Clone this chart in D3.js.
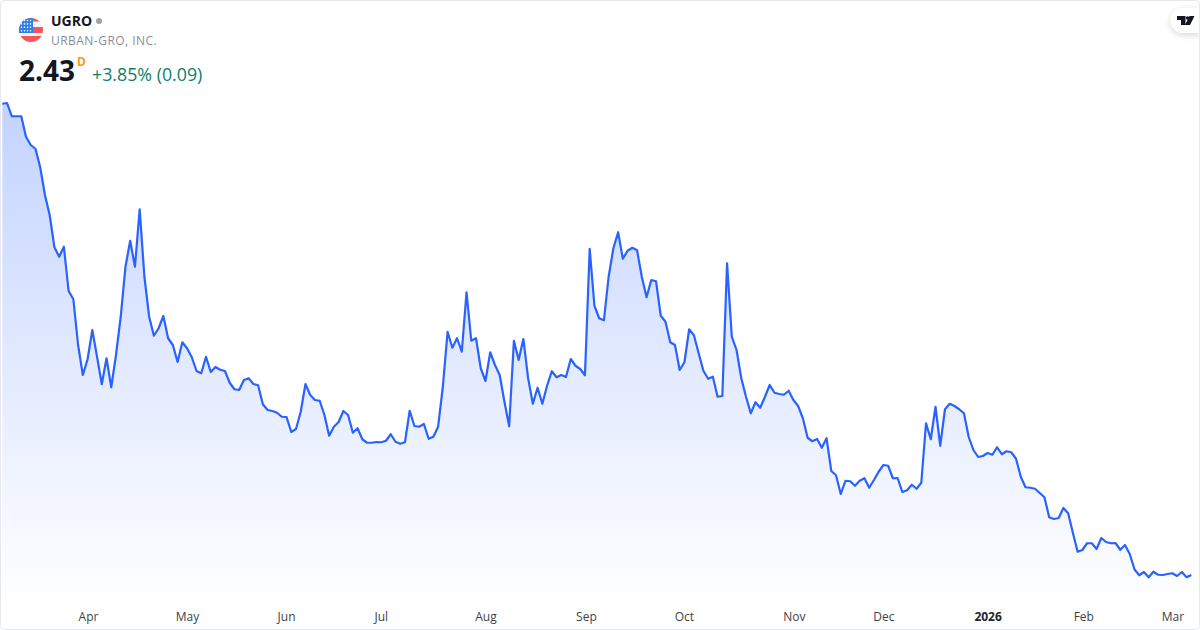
<!DOCTYPE html>
<html>
<head>
<meta charset="utf-8">
<script src="https://cdn.jsdelivr.net/npm/d3@7"></script>
<style>
html,body{margin:0;padding:0;background:#fff;overflow:hidden}
svg{display:block;font-family:"Open Sans",sans-serif}
</style>
</head>
<body>
<svg id="chart" width="1200" height="630"></svg>
<script>
const ticker = "UGRO";
const companyName = "URBAN-GRO, INC.";
const lastPrice = "2.43";
const intervalLabel = "D";
const changeLabel = "+3.85% (0.09)";

const prices = [
21.28,21.31,20.78,20.78,20.78,19.96,19.63,19.48,18.74,17.63,16.83,15.54,15.16,15.56,13.79,13.46,11.63,10.43,11.06,12.23,
11.16,10.06,11.10,9.94,11.23,12.76,14.76,15.80,14.76,17.06,14.36,12.76,12.00,12.30,12.79,11.90,11.63,10.95,11.74,11.50,
11.14,10.59,10.50,11.16,10.55,10.75,10.64,10.59,10.12,9.86,9.83,10.23,10.30,10.07,10.02,9.26,9.03,8.99,8.92,8.76,
8.75,8.15,8.27,8.96,10.07,9.63,9.43,9.40,8.83,8.00,8.36,8.55,8.99,8.83,8.12,8.30,7.86,7.72,7.72,7.75,
7.74,7.80,8.06,7.76,7.68,7.74,9.00,8.39,8.36,8.47,7.88,7.96,8.36,9.96,12.16,11.52,11.90,11.36,13.74,11.80,
11.90,10.70,10.19,11.34,10.83,10.43,9.36,8.38,11.80,11.03,11.87,10.30,9.28,9.92,9.28,10.00,10.58,10.34,10.43,10.35,
11.07,10.80,10.67,10.42,15.48,13.20,12.70,12.62,14.36,15.50,16.14,15.08,15.40,15.52,15.42,14.36,13.54,14.23,14.18,12.80,
12.56,11.74,11.63,10.63,10.94,12.26,12.02,11.30,10.60,10.28,10.36,9.56,9.59,14.90,11.96,11.43,10.30,9.56,8.90,9.34,
9.12,9.56,10.03,9.72,9.67,9.64,9.80,9.43,9.19,8.70,7.92,7.78,7.87,7.52,7.90,6.59,6.42,5.67,6.20,6.18,
6.00,6.20,6.30,5.92,6.23,6.56,6.83,6.80,6.30,6.31,5.75,5.82,6.04,5.88,6.12,8.50,7.86,9.16,7.60,9.06,
9.28,9.19,9.06,8.90,7.96,7.43,7.15,7.19,7.31,7.24,7.54,7.26,7.38,7.34,7.08,6.36,5.94,5.92,5.88,5.71,
5.54,4.74,4.67,4.71,5.11,4.90,4.12,3.36,3.43,3.70,3.70,3.47,3.91,3.75,3.70,3.71,3.44,3.63,3.27,2.66,
2.42,2.55,2.34,2.56,2.44,2.43,2.47,2.50,2.39,2.55,2.34,2.43
];
const tickPositions = [18.1,39,59.9,79.9,102,123.2,143.9,167.1,186,208,228.2,247];
const tickLabels = ["Apr","May","Jun","Jul","Aug","Sep","Oct","Nov","Dec","2026","Feb","Mar"];
const flagStripes = ["#f4f5f7","#f4545a"];

const W = 1200, H = 630;
const svg = d3.select("#chart");
const x = d3.scaleLinear().domain([0, prices.length - 1]).range([2.3, 1191.3]);
const y = d3.scaleLinear().domain([0.23, 25.43]).range([H, 0]);

const defs = svg.append("defs");
const grad = defs.append("linearGradient").attr("id","areaFill")
  .attr("gradientUnits","userSpaceOnUse").attr("x1",0).attr("x2",0).attr("y1",100).attr("y2",606);
grad.append("stop").attr("offset",0).attr("stop-color","#2962ff").attr("stop-opacity",0.28);
grad.append("stop").attr("offset",1).attr("stop-color","#2962ff").attr("stop-opacity",0);

const shadow = defs.append("filter").attr("id","badgeShadow")
  .attr("x","-40%").attr("y","-40%").attr("width","180%").attr("height","200%");
shadow.append("feDropShadow").attr("dx",0).attr("dy",2).attr("stdDeviation",3)
  .attr("flood-color","#000").attr("flood-opacity",0.16);

const clip = defs.append("clipPath").attr("id","flagClip");
clip.append("circle").attr("cx",31).attr("cy",30).attr("r",12);

svg.append("rect").attr("width",W).attr("height",H).attr("fill","#fff");

const area = d3.area().x((d,i)=>x(i)).y0(606).y1(d=>y(d)).curve(d3.curveLinear);
const line = d3.line().x((d,i)=>x(i)).y(d=>y(d)).curve(d3.curveLinear);

svg.append("path").datum(prices).attr("d",area).attr("fill","url(#areaFill)");
svg.append("path").datum(prices).attr("d",line).attr("fill","none")
  .attr("stroke","#2962ff").attr("stroke-width",2.2).attr("stroke-linejoin","round");

const axis = d3.axisBottom(x).tickValues(tickPositions)
  .tickFormat((d,i)=>tickLabels[i]).tickSize(0).tickPadding(0);
const gx = svg.append("g").attr("transform","translate(0,612)").call(axis);
gx.select(".domain").remove();
gx.selectAll("text").attr("font-family",'"Open Sans",sans-serif').attr("font-size",12)
  .attr("dy","0.71em").attr("y",0)
  .attr("font-weight",(d,i)=>tickLabels[i]==="2026"?700:400)
  .attr("fill",(d,i)=>tickLabels[i]==="2026"?"#22242b":"#3c3f47");

// flag logo
const flag = svg.append("g").attr("clip-path","url(#flagClip)");
flag.append("rect").attr("x",19).attr("y",18).attr("width",24).attr("height",24).attr("fill","#f4f5f7");
flag.append("rect").attr("x",19).attr("y",36).attr("width",24).attr("height",6).attr("fill",flagStripes[1]);
flag.append("rect").attr("x",19).attr("y",27).attr("width",24).attr("height",6).attr("fill",flagStripes[1]);
flag.append("rect").attr("x",19).attr("y",18).attr("width",24).attr("height",3.5).attr("fill",flagStripes[1]);
flag.append("rect").attr("x",19).attr("y",18).attr("width",14).attr("height",15).attr("fill","#2f7fe8");
flag.append("path").attr("fill","#fff").attr("d",
  d3.range(4).flatMap(r=>d3.range(4).map(c=>{
    const cx = 21.5+c*3, cy = 20.5+r*3.4;
    return `M${cx-0.8},${cy}a0.8,0.8 0 1,0 1.6,0a0.8,0.8 0 1,0 -1.6,0`;
  })).join(""));

// header
svg.append("text").attr("x",51).attr("y",26).attr("font-size",14).attr("font-weight",700)
  .attr("fill","#131722").text(ticker);
svg.append("circle").attr("cx",99).attr("cy",21).attr("r",3).attr("fill","#a3a3a3");
svg.append("text").attr("x",51).attr("y",45).attr("font-size",12).attr("letter-spacing","0.47px")
  .attr("fill","#8a8e97").text(companyName);
svg.append("text").attr("x",19).attr("y",81).attr("font-size",28).attr("font-weight",700)
  .attr("fill","#131722").text(lastPrice);
svg.append("text").attr("x",77).attr("y",66).attr("font-size",12).attr("font-weight",700)
  .attr("fill","#f59d0e").text(intervalLabel);
svg.append("text").attr("x",92).attr("y",81).attr("font-size",17.8)
  .attr("fill","#0b7f6d").text(changeLabel);

// logo badge
svg.append("path").attr("d","M1200,8H1183a12.5,12.5 0 0 0 0,25H1200Z").attr("fill","#fff")
  .attr("filter","url(#badgeShadow)");
svg.append("path").attr("fill","#131722")
  .attr("d","M1177,16H1185.5V25H1181V20H1177ZM1189.5,16H1194.5L1190,25H1185Z");
svg.append("circle").attr("cx",1187.5).attr("cy",18).attr("r",1.7).attr("fill","#131722");

// frame
svg.append("rect").attr("x",0.5).attr("y",0.5).attr("width",W-1).attr("height",H-1)
  .attr("rx",4).attr("fill","none").attr("stroke","#e6e8ee");
</script>
</body>
</html>
